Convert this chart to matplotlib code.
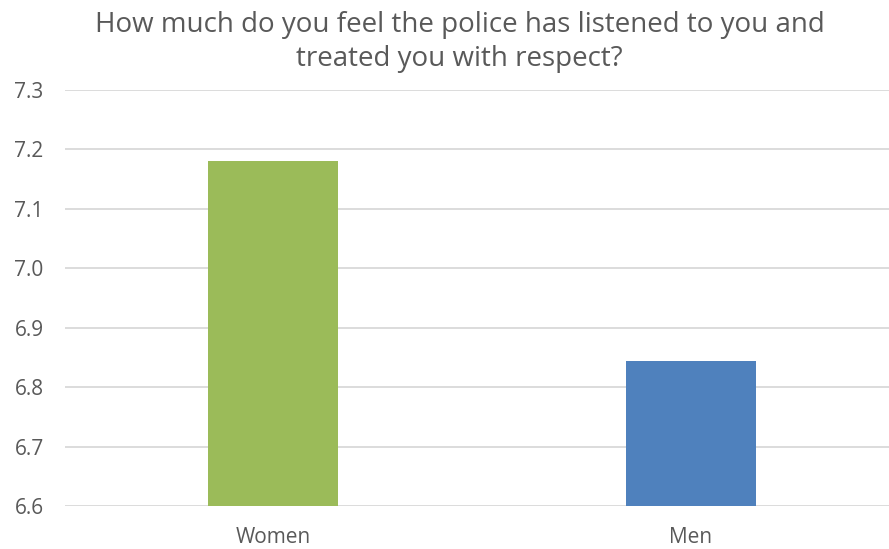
import matplotlib
matplotlib.use('Agg')
import matplotlib.pyplot as plt

categories = ['Women', 'Men']
values = [7.18, 6.844]
colors = ['#9BBB59', '#4F81BD']
yticks = [6.6, 6.7, 6.8, 6.9, 7.0, 7.1, 7.2, 7.3]

plt.rcParams['font.family'] = ['Open Sans', 'DejaVu Sans']
text_color = '#595959'

fig = plt.figure(figsize=(8.89, 5.49), dpi=100)
ax = fig.add_axes([64.5 / 889, 1 - 506 / 549, 1 - 64.5 / 889, (506 - 90) / 549])

x = range(len(categories))
ax.bar(x, [v - 6.6 for v in values], bottom=6.6, width=0.312, color=colors, zorder=3)

ax.set_ylim(6.6, 7.3)
ax.set_xlim(-0.5, 1.5 - 10.5 / 417.5)
ax.set_yticks(yticks)
ax.set_yticklabels([f'{t:.1f}' for t in yticks], color=text_color, fontsize=15)
ax.set_xticks(list(x))
ax.set_xticklabels(categories, color=text_color, fontsize=15)
ax.tick_params(axis='both', length=0)
ax.tick_params(axis='y', pad=15)
ax.tick_params(axis='x', pad=15)
ax.grid(axis='y', color='#D9D9D9', linewidth=1.3, zorder=0)
for s in ax.spines.values():
    s.set_visible(False)

fig.text(459.5 / 889, 1 - 42 / 549,
         'How much do you feel the police has listened to you and\ntreated you with respect?',
         ha='center', va='center', fontsize=20, color=text_color, linespacing=1.33)

fig.savefig('out.png', dpi=100)
